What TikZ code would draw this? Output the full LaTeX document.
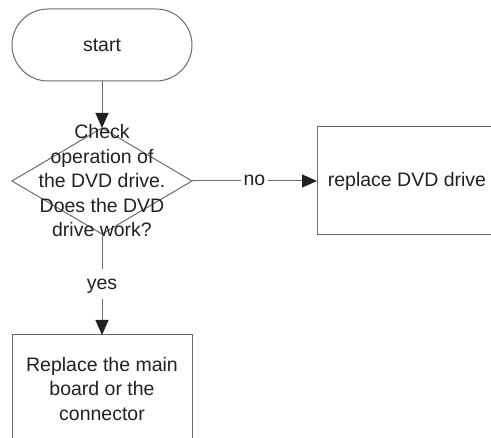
\documentclass[tikz,border=0pt]{standalone}
\usepackage{fontspec}
\setmainfont{Liberation Sans}
\usetikzlibrary{arrows.meta}
\usetikzlibrary{shapes.geometric}
\usetikzlibrary{positioning}
\definecolor{linegray}{gray}{0.42}
\definecolor{inkblack}{rgb}{0.14,0.12,0.13}
\tikzset{
	flowtext/.style={font=\fontsize{19.5pt}{24.5pt}\selectfont, text=inkblack},
	terminal/.style={draw=linegray, rectangle, rounded corners=36pt, minimum width=180pt,
		minimum height=72pt, inner sep=0pt, outer sep=0pt, flowtext},
	decision/.style={draw=linegray, diamond, minimum width=180pt, minimum height=106pt,
		inner sep=0pt, outer sep=0pt},
	process/.style={draw=linegray, rectangle, minimum width=180pt, minimum height=108pt,
		inner sep=0pt, outer sep=0pt, align=center, flowtext},
	flow/.style={draw=linegray, -{Triangle[length=15pt,width=13pt,color=inkblack]}},
	answer/.style={fill=white, inner sep=3pt, text height=17pt, text depth=7pt, flowtext},
}

\begin{document}
\begin{tikzpicture}[line width=1pt, x=1pt, y=-1pt]
	\useasboundingbox (0,0) rectangle (491,438);
	\clip (0,0) rectangle (491,438);
		\node[terminal] (start) at (102,45) {start};
		\node[decision, below=47pt of start,
			label={[flowtext, align=center]center:Check\\operation of\\the DVD drive.\\Does the DVD\\drive work?}] (check) {};
		\node[process, right=125pt of check] (dvd) {replace DVD drive};
		\node[process, below=101pt of check] (board) {Replace the main\\board or the\\connector};
	% connectors
		\draw[flow] (start) -- (check);
		\draw[flow] (check) -- node[answer] {no} (dvd);
		\draw[flow] (check) -- node[answer] {yes} (board);
\end{tikzpicture}
\end{document}
